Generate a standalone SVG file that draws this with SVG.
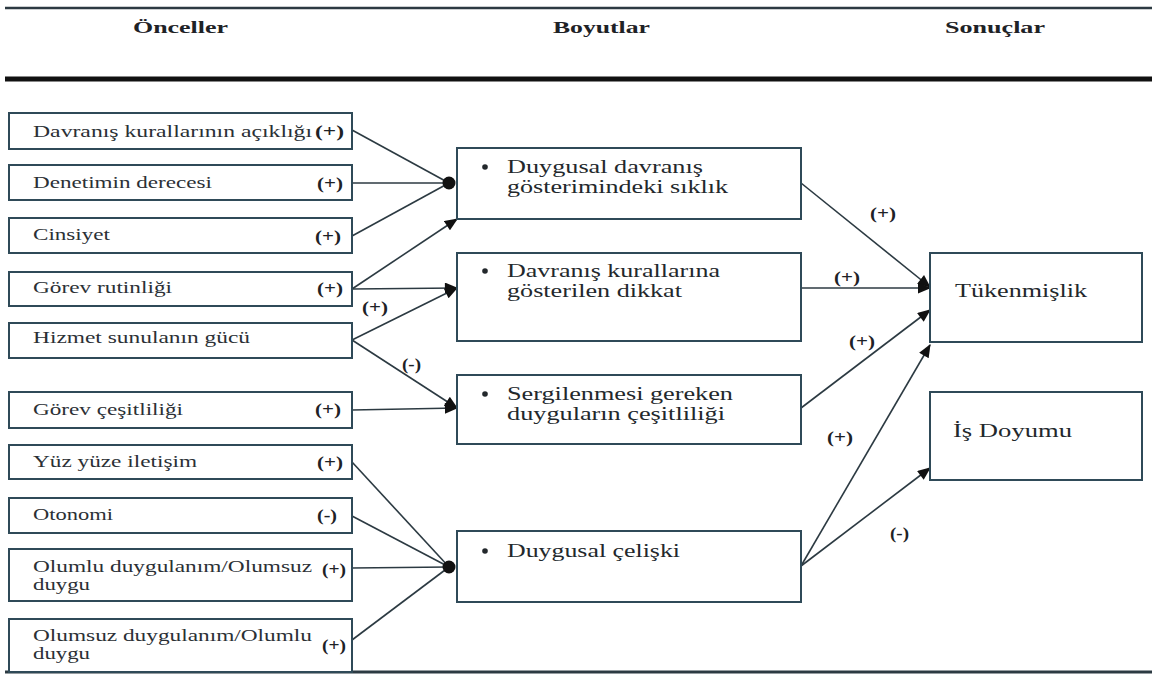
<svg xmlns="http://www.w3.org/2000/svg" width="1152" height="674" viewBox="0 0 1152 674">
<style>
.box{fill:#fff;stroke:#2f4a58;stroke-width:2}
.t{font-family:"Liberation Serif",serif;font-size:17px;fill:#2b3035}
.m{font-family:"Liberation Serif",serif;font-size:19px;fill:#23282c}
.s{font-family:"Liberation Serif",serif;font-size:17px;font-weight:bold;fill:#1e2226}
.h{font-family:"Liberation Serif",serif;font-size:17px;font-weight:bold;fill:#1e2226}
.c{stroke:#2c3a42;stroke-width:1.6;fill:none}
.dot{fill:#111}
</style>
<defs>
<marker id="ah" viewBox="0 0 12 10" refX="11" refY="5" markerWidth="14" markerHeight="11" markerUnits="userSpaceOnUse" orient="auto">
<path d="M0,0 L12,5 L0,10 z" fill="#111"/>
</marker>
</defs>
<rect width="1152" height="674" fill="#fff"/>
<g id="header">
<line x1="5" y1="8" x2="1152" y2="8" stroke="#2c3a42" stroke-width="2.5"/>
<line x1="5" y1="79" x2="1152" y2="79" stroke="#111" stroke-width="5"/>
<line x1="5" y1="672" x2="1152" y2="672" stroke="#2c3a42" stroke-width="3"/>
<text class="h" x="133" y="33" textLength="95" lengthAdjust="spacingAndGlyphs">Önceller</text>
<text class="h" x="553" y="33" textLength="97" lengthAdjust="spacingAndGlyphs">Boyutlar</text>
<text class="h" x="945" y="33" textLength="100" lengthAdjust="spacingAndGlyphs">Sonuçlar</text>
</g>
<g id="connectors">
<line class="c" x1="352" y1="130" x2="449" y2="183"/>
<line class="c" x1="352" y1="183" x2="449" y2="183"/>
<line class="c" x1="352" y1="236" x2="449" y2="183"/>
<line class="c" x1="352" y1="289" x2="457" y2="219" marker-end="url(#ah)"/>
<line class="c" x1="352" y1="289" x2="457" y2="288" marker-end="url(#ah)"/>
<line class="c" x1="352" y1="340" x2="457" y2="288" marker-end="url(#ah)"/>
<line class="c" x1="352" y1="340" x2="457" y2="408" marker-end="url(#ah)"/>
<line class="c" x1="352" y1="410" x2="457" y2="408" marker-end="url(#ah)"/>
<line class="c" x1="352" y1="462" x2="449" y2="567"/>
<line class="c" x1="352" y1="516" x2="449" y2="567"/>
<line class="c" x1="352" y1="568" x2="449" y2="567"/>
<line class="c" x1="352" y1="640" x2="449" y2="567"/>
<circle class="dot" cx="449" cy="183" r="6.5"/>
<circle class="dot" cx="449" cy="567" r="6.5"/>
<line class="c" x1="801" y1="183" x2="930" y2="287" marker-end="url(#ah)"/>
<line class="c" x1="801" y1="288" x2="930" y2="288" marker-end="url(#ah)"/>
<line class="c" x1="801" y1="408" x2="930" y2="310" marker-end="url(#ah)"/>
<line class="c" x1="801" y1="566" x2="930" y2="345" marker-end="url(#ah)"/>
<line class="c" x1="801" y1="566" x2="930" y2="468" marker-end="url(#ah)"/>
<text class="s" x="362" y="313" textLength="26" lengthAdjust="spacingAndGlyphs">(+)</text>
<text class="s" x="402" y="370" textLength="19" lengthAdjust="spacingAndGlyphs">(-)</text>
<text class="s" x="870" y="219" textLength="26" lengthAdjust="spacingAndGlyphs">(+)</text>
<text class="s" x="834" y="283" textLength="26" lengthAdjust="spacingAndGlyphs">(+)</text>
<text class="s" x="849" y="347" textLength="26" lengthAdjust="spacingAndGlyphs">(+)</text>
<text class="s" x="827" y="443" textLength="26" lengthAdjust="spacingAndGlyphs">(+)</text>
<text class="s" x="890" y="539" textLength="19" lengthAdjust="spacingAndGlyphs">(-)</text>
</g>
<g id="n1"><rect class="box" x="9" y="113" width="343" height="36"/><text class="t" x="33" y="137" textLength="279" lengthAdjust="spacingAndGlyphs">Davranış kurallarının açıklığı</text><text class="s" x="315" y="137" textLength="29" lengthAdjust="spacingAndGlyphs">(+)</text></g>
<g id="n2"><rect class="box" x="9" y="165" width="343" height="35"/><text class="t" x="33" y="188" textLength="179" lengthAdjust="spacingAndGlyphs">Denetimin derecesi</text><text class="s" x="317" y="189" textLength="26" lengthAdjust="spacingAndGlyphs">(+)</text></g>
<g id="n3"><rect class="box" x="9" y="218" width="343" height="35"/><text class="t" x="33" y="240" textLength="77" lengthAdjust="spacingAndGlyphs">Cinsiyet</text><text class="s" x="315" y="242" textLength="26" lengthAdjust="spacingAndGlyphs">(+)</text></g>
<g id="n4"><rect class="box" x="9" y="272" width="343" height="34"/><text class="t" x="33" y="293" textLength="139" lengthAdjust="spacingAndGlyphs">Görev rutinliği</text><text class="s" x="317" y="294" textLength="26" lengthAdjust="spacingAndGlyphs">(+)</text></g>
<g id="n5"><rect class="box" x="9" y="323" width="343" height="35"/><text class="t" x="33" y="343" textLength="217" lengthAdjust="spacingAndGlyphs">Hizmet sunulanın gücü</text></g>
<g id="n6"><rect class="box" x="9" y="392" width="343" height="36"/><text class="t" x="33" y="415" textLength="150" lengthAdjust="spacingAndGlyphs">Görev çeşitliliği</text><text class="s" x="315" y="415" textLength="26" lengthAdjust="spacingAndGlyphs">(+)</text></g>
<g id="n7"><rect class="box" x="9" y="445" width="343" height="34"/><text class="t" x="33" y="467" textLength="164" lengthAdjust="spacingAndGlyphs">Yüz yüze iletişim</text><text class="s" x="317" y="468" textLength="26" lengthAdjust="spacingAndGlyphs">(+)</text></g>
<g id="n8"><rect class="box" x="9" y="498" width="343" height="35"/><text class="t" x="33" y="520" textLength="80" lengthAdjust="spacingAndGlyphs">Otonomi</text><text class="s" x="317" y="521" textLength="20" lengthAdjust="spacingAndGlyphs">(-)</text></g>
<g id="n9"><rect class="box" x="9" y="549" width="343" height="52"/><text class="t" x="33" y="572" textLength="279" lengthAdjust="spacingAndGlyphs">Olumlu duygulanım/Olumsuz</text><text class="t" x="33" y="590" textLength="57" lengthAdjust="spacingAndGlyphs">duygu</text><text class="s" x="322" y="575" textLength="24" lengthAdjust="spacingAndGlyphs">(+)</text></g>
<g id="n10"><rect class="box" x="9" y="619" width="343" height="53"/><text class="t" x="33" y="641" textLength="279" lengthAdjust="spacingAndGlyphs">Olumsuz duygulanım/Olumlu</text><text class="t" x="33" y="659" textLength="57" lengthAdjust="spacingAndGlyphs">duygu</text><text class="s" x="322" y="651" textLength="24" lengthAdjust="spacingAndGlyphs">(+)</text></g>
<g id="nA"><rect class="box" x="457" y="148" width="344" height="71"/><circle cx="485" cy="167" r="2.8" fill="#23282c"/><text class="m" x="507" y="173" textLength="196" lengthAdjust="spacingAndGlyphs">Duygusal davranış</text><text class="m" x="507" y="193" textLength="221" lengthAdjust="spacingAndGlyphs">gösterimindeki sıklık</text></g>
<g id="nB"><rect class="box" x="457" y="253" width="344" height="88"/><circle cx="485" cy="271" r="2.8" fill="#23282c"/><text class="m" x="507" y="277" textLength="213" lengthAdjust="spacingAndGlyphs">Davranış kurallarına</text><text class="m" x="507" y="297" textLength="175" lengthAdjust="spacingAndGlyphs">gösterilen dikkat</text></g>
<g id="nC"><rect class="box" x="457" y="375" width="344" height="69"/><circle cx="485" cy="394" r="2.8" fill="#23282c"/><text class="m" x="507" y="400" textLength="226" lengthAdjust="spacingAndGlyphs">Sergilenmesi gereken</text><text class="m" x="507" y="420" textLength="218" lengthAdjust="spacingAndGlyphs">duyguların çeşitliliği</text></g>
<g id="nD"><rect class="box" x="457" y="531" width="344" height="71"/><circle cx="485" cy="551" r="2.8" fill="#23282c"/><text class="m" x="507" y="557" textLength="173" lengthAdjust="spacingAndGlyphs">Duygusal çelişki</text></g>
<g id="nT"><rect class="box" x="930" y="253" width="212" height="89"/><text class="m" x="955" y="297" textLength="132" lengthAdjust="spacingAndGlyphs">Tükenmişlik</text></g>
<g id="nI"><rect class="box" x="930" y="392" width="212" height="88"/><text class="m" x="953" y="437" textLength="119" lengthAdjust="spacingAndGlyphs">İş Doyumu</text></g>
</svg>
